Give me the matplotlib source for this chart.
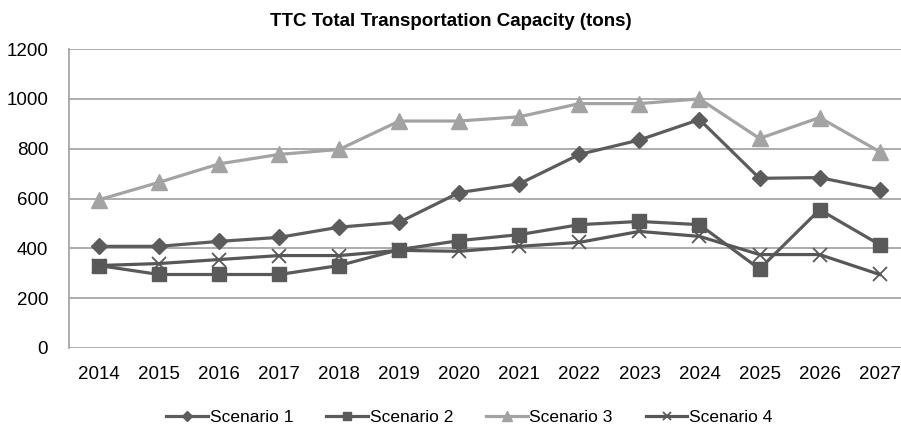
import matplotlib.pyplot as plt

plt.rcParams['font.family'] = ['Liberation Sans', 'DejaVu Sans']

years = ["2014", "2015", "2016", "2017", "2018", "2019", "2020",
         "2021", "2022", "2023", "2024", "2025", "2026", "2027"]
scenario1 = [408, 408, 428, 444, 485, 505, 624, 659, 777, 835, 917, 681, 684, 635]
scenario2 = [331, 295, 295, 295, 331, 395, 431, 455, 495, 508, 495, 317, 555, 415]
scenario3 = [595, 665, 739, 777, 797, 911, 911, 928, 981, 981, 1000, 841, 925, 788]
scenario4 = [331, 339, 355, 371, 371, 392, 388, 408, 424, 468, 448, 375, 375, 295]

fig = plt.figure(figsize=(9.01, 4.30), dpi=100)
ax = fig.add_axes([0.0766, 0.1907, 0.933, 0.6953])

x = list(range(len(years)))
ax.plot(x, scenario1, color="#5c5c5c", lw=2.3, marker="D", ms=8, label="Scenario 1", zorder=4)
ax.plot(x, scenario2, color="#5a5a5a", lw=2.3, marker="s", ms=10, label="Scenario 2", zorder=3)
ax.plot(x, scenario3, color="#a3a3a3", lw=2.3, marker="^", ms=11, label="Scenario 3", zorder=3)
ax.plot(x, scenario4, color="#575757", lw=2.3, marker="x", ms=10, mew=1.3, label="Scenario 4", zorder=3)

ax.set_xlim(-0.5, 13.5)
ax.set_ylim(0, 1200)
ax.set_yticks(range(0, 1201, 200))
ax.set_xticks(x)
ax.set_xticklabels(years)
ax.tick_params(length=0, labelsize=13.5, colors="#000000")
ax.tick_params(axis="x", pad=13)
ax.tick_params(axis="y", pad=15)
ax.grid(axis="y", color="#a6a6a6", lw=1.3)
ax.set_axisbelow(True)
for s in ["top", "right", "bottom"]:
    ax.spines[s].set_visible(False)
ax.spines["left"].set_color("#a6a6a6")
ax.spines["left"].set_linewidth(1.3)

fig.suptitle("TTC Total Transportation Capacity (tons)", x=0.5, y=0.97,
             fontsize=13.5, fontweight="bold")

fig.legend(loc="center", bbox_to_anchor=(0.521, 0.03), ncol=4, frameon=False,
           fontsize=12.5, handlelength=2.4, markerscale=0.6, columnspacing=1.9,
           handletextpad=0.1)

fig.savefig("out.png", dpi=100)
